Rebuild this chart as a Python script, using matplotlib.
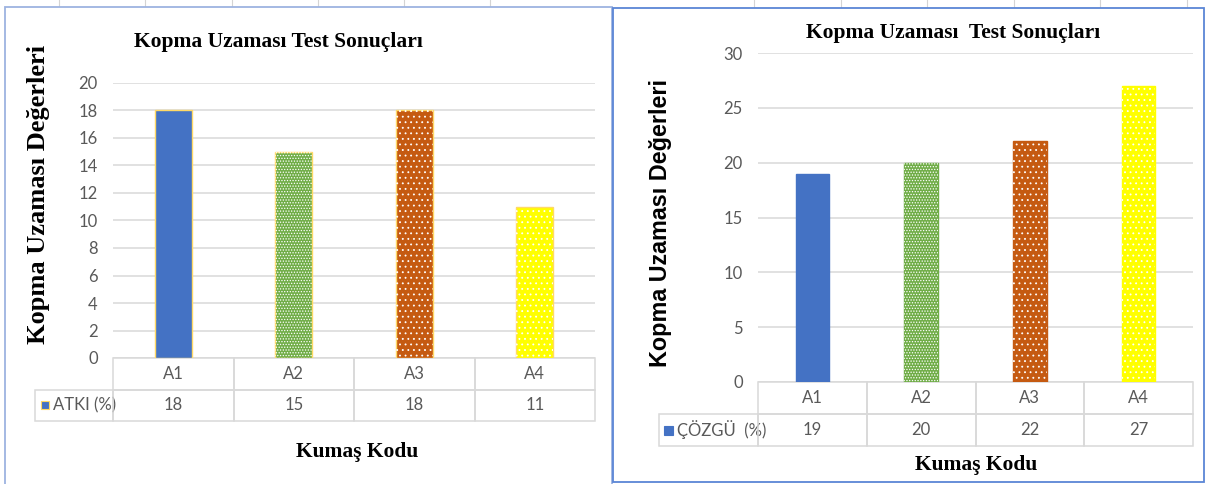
import matplotlib.pyplot as plt
from matplotlib.patches import Rectangle
from matplotlib.lines import Line2D
from matplotlib.table import Table

# Kopma uzaması test sonuçları (atkı ve çözgü yönü)
categories = ['A1', 'A2', 'A3', 'A4']
atki = [18, 15, 18, 11]
cozgu = [19, 20, 22, 27]
atki_label = 'ATKI (%)'
cozgu_label = 'ÇÖZGÜ  (%)'
atki_ticks = list(range(0, 21, 2))
cozgu_ticks = list(range(0, 31, 5))
title_left = 'Kopma Uzaması Test Sonuçları'
title_right = 'Kopma Uzaması  Test Sonuçları'
ylabel = 'Kopma Uzaması Değerleri'
xlabel = 'Kumaş Kodu'

bar_colors = ['#4472C4', '#70AD47', '#C55A11', '#FFFF00']
bar_hatches = [None, '......', '...', '...']

W, H = 1206, 484
NARROW = ['Lato', 'DejaVu Sans']
GRID = '#D9D9D9'
TXT = '#595959'

plt.rcParams['hatch.linewidth'] = 0.6

fig = plt.figure(figsize=(W / 100, H / 100), dpi=100)
fig.patch.set_facecolor('white')


def fx(x):
    return x / W


def fy(y):
    return 1 - y / H


# ince tablo çizgileri (sayfanın üst kısmı)
for x in [59, 145, 232, 318, 404, 490, 754, 841, 927, 1014, 1100, 1187]:
    fig.add_artist(Line2D([fx(x), fx(x)], [fy(0), fy(7)], color='#D4D4D4', lw=0.8, zorder=-20))

# grafik çerçeveleri
fig.add_artist(Rectangle((fx(5), fy(486)), fx(607), (486 - 7) / H, transform=fig.transFigure,
                         facecolor='white', edgecolor='#9DB3E0', lw=1.3, zorder=-10))
fig.add_artist(Rectangle((fx(613), fy(482)), fx(591), (482 - 8) / H, transform=fig.transFigure,
                         facecolor='white', edgecolor='#5B86D6', lw=1.3, zorder=-9))


def draw_panel(box, values, ticks, series_label, edgecolors, table_px, sq_px, pad):
    x0, ytop, x1, ybot = box
    ax = fig.add_axes([fx(x0), fy(ybot), (x1 - x0) / W, (ybot - ytop) / H])
    ax.set_facecolor('none')
    xs = range(len(categories))
    ax.bar(xs, values, width=0.31, color=bar_colors, edgecolor=edgecolors, linewidth=1.0, zorder=2)
    for x, v, h in zip(xs, values, bar_hatches):
        if h:
            ax.bar(x, v, width=0.31, facecolor='none', edgecolor='white', hatch=h,
                   linewidth=0, zorder=3)
    ax.set_xlim(-0.5, len(categories) - 0.5)
    ax.set_ylim(ticks[0], ticks[-1])
    ax.set_yticks(ticks)
    ax.yaxis.grid(True, color=GRID, lw=1.1, zorder=0)
    ax.set_axisbelow(True)
    for s in ax.spines.values():
        s.set_visible(False)
    ax.set_xticks([])
    ax.tick_params(axis='y', length=0, pad=11, labelcolor=TXT)
    for lb in ax.get_yticklabels():
        lb.set_family(NARROW)
        lb.set_fontsize(12)

    # veri tablosu (bbox yalnızca veri hücrelerini kapsar, seri adı solda kalır)
    aw, ah = x1 - x0, ybot - ytop
    tl, tb = table_px
    th = (tb - ybot) / ah
    tbl = Table(ax, bbox=[0, -th, 1, th])
    lab_w = (x0 - tl) / aw
    col_w = 1 / len(categories)
    for c, cat in enumerate(categories):
        tbl.add_cell(0, c, col_w, th / 2, text=cat, loc='center')
        tbl.add_cell(1, c, col_w, th / 2, text=str(values[c]), loc='center')
    tbl.add_cell(1, -1, lab_w, th / 2, text=series_label, loc='left')
    tbl.auto_set_font_size(False)
    for (r, c), cell in tbl.get_celld().items():
        cell.set_edgecolor(GRID)
        cell.set_linewidth(1.1)
        cell.set_facecolor('none')
        cell.get_text().set_family(NARROW)
        cell.get_text().set_fontsize(12)
        cell.get_text().set_color(TXT)
        if c == -1:
            cell.PAD = pad
    ax.add_table(tbl)
    # seri işareti
    sx, sy, ss, sec = sq_px
    fig.add_artist(Rectangle((fx(sx), fy(sy + ss / 2)), ss / W, ss / H, transform=fig.transFigure,
                             facecolor=bar_colors[0], edgecolor=sec, lw=0.8, zorder=5))
    return ax


draw_panel((113, 83, 595, 358), atki, atki_ticks, atki_label, '#FFD966',
           (35, 421), (41, 405, 8, '#FFD966'), 0.23)
draw_panel((758, 53, 1193, 382), cozgu, cozgu_ticks, cozgu_label, bar_colors,
           (659, 446), (664, 430, 9, '#4472C4'), 0.18)

serif_b = dict(family='Liberation Serif', weight='bold')
fig.text(fx(278), fy(42), title_left, ha='center', va='center', fontsize=15.5, **serif_b)
fig.text(fx(953), fy(33), title_right, ha='center', va='center', fontsize=15.5, **serif_b)
fig.text(fx(39), fy(194), ylabel, ha='center', va='center', rotation=90, fontsize=19, **serif_b)
fig.text(fx(661), fy(223), ylabel, ha='center', va='center', rotation=90, fontsize=16.8,
         family='Liberation Sans', weight='bold')
fig.text(fx(357), fy(452), xlabel, ha='center', va='center', fontsize=15.5, **serif_b)
fig.text(fx(976), fy(465), xlabel, ha='center', va='center', fontsize=15.5, **serif_b)

fig.savefig('out.png', dpi=100)
